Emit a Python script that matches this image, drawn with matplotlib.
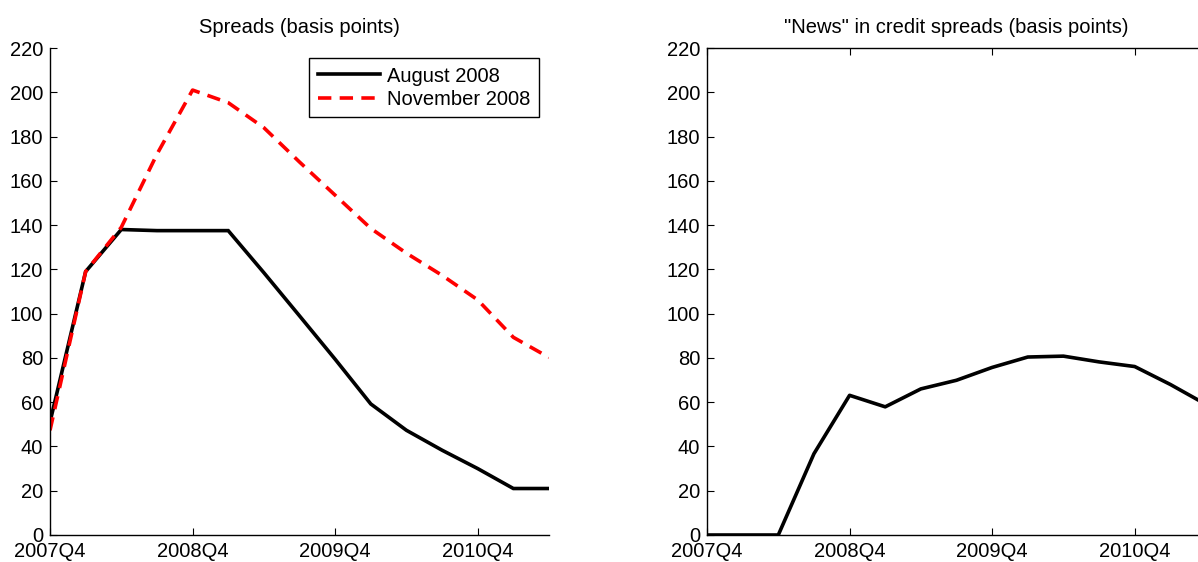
import matplotlib
matplotlib.use("Agg")
import matplotlib.pyplot as plt
import numpy as np

plt.rcParams['font.family'] = ['Liberation Sans', 'DejaVu Sans']

quarters = list(range(15))
tick_pos = [0, 4, 8, 12]
tick_labels = ['2007Q4', '2008Q4', '2009Q4', '2010Q4']
yticks = list(range(0, 221, 20))

aug_2008 = [51, 119, 138, 137.5, 137.5, 137.5, 118.5, 99, 79.4, 59.2, 47.3, 38.3, 30, 21, 21]
nov_2008 = [47.3, 119, 139, 172, 201, 195.3, 184, 168.5, 153.5, 138.5, 127.3, 117.3, 106.2, 89.3, 80.2]
news = [0, 0, 0, 36.7, 63.1, 57.9, 66.0, 69.9, 75.7, 80.4, 80.8, 78.2, 76.1, 68, 59]

W, H = 1198, 562
fig = plt.figure(figsize=(W / 100, H / 100), dpi=100)

def px_axes(x0, y0, x1, y1):
    return fig.add_axes([x0 / W, 1 - y1 / H, (x1 - x0) / W, (y1 - y0) / H])

FS = 14.5

def style(ax, top=False):
    ax.set_xlim(0, 14)
    ax.set_ylim(0, 220)
    ax.set_xticks(tick_pos)
    ax.set_xticklabels(tick_labels)
    ax.set_yticks(yticks)
    ax.tick_params(direction='in', length=5, width=0.8, labelsize=FS,
                   top=top, right=top, pad=5)
    ax.tick_params(axis='x', pad=5)
    for s in ax.spines.values():
        s.set_linewidth(1.0)
    if not top:
        ax.spines['top'].set_visible(False)
        ax.spines['right'].set_visible(False)

ax1 = px_axes(50, 48, 549, 535)
ax1.plot(quarters, aug_2008, color='black', lw=2.6, label='August 2008', solid_joinstyle='miter')
ax1.plot(quarters, nov_2008, color='red', lw=2.6, dashes=(3.7, 2.3), label='November 2008')
style(ax1)
ax1.set_title('Spreads (basis points)', fontsize=FS, pad=11)
leg = ax1.legend(loc='upper right', fontsize=FS, frameon=True, fancybox=False,
                 edgecolor='black', framealpha=1, handlelength=3.1, handletextpad=0.35,
                 labelspacing=0.2, borderpad=0.42, borderaxespad=0.5)
leg.get_frame().set_linewidth(1.0)

ax2 = px_axes(707, 48, 1206, 535)
ax2.plot(quarters, news, color='black', lw=2.6, clip_on=True)
style(ax2, top=True)
ax2.set_title('"News" in credit spreads (basis points)', fontsize=FS, pad=11)

fig.savefig('out.png', dpi=100)
